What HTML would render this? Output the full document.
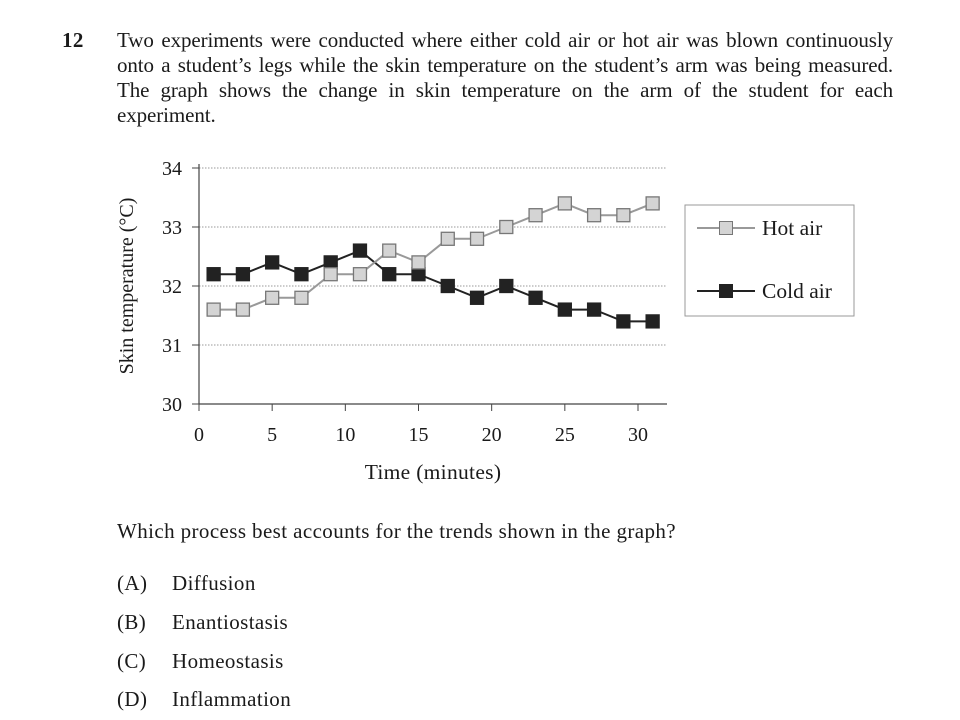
<!DOCTYPE html>
<html><head><meta charset="utf-8"><style>
body{margin:0;width:960px;height:720px;background:#fff;font-family:"Liberation Serif",serif;color:#1a1a1a;overflow:hidden;position:relative}
.t{position:absolute;font-size:21px;letter-spacing:0.4px;white-space:nowrap}
.ln{position:absolute;left:117px;width:776px;font-size:21px;letter-spacing:-0.1px;text-align:justify;text-align-last:justify;white-space:nowrap}
</style></head><body>
<div class="t" style="left:62px;top:28px;font-weight:bold">12</div>
<div>
<div class="ln" style="top:28px">Two experiments were conducted where either cold air or hot air was blown continuously</div>
<div class="ln" style="top:53px">onto a student’s legs while the skin temperature on the student’s arm was being measured.</div>
<div class="ln" style="top:78px">The graph shows the change in skin temperature on the arm of the student for each</div>
<div class="ln" style="top:103px;text-align-last:left">experiment.</div>
</div>
<svg id="chart" width="960" height="720" style="position:absolute;left:0;top:0" font-family="Liberation Serif, serif"></svg>
<div class="t" style="left:117px;top:519px">Which process best accounts for the trends shown in the graph?</div>
<div class="t" style="left:117px;top:571px">(A)<span style="position:absolute;left:55px">Diffusion</span></div>
<div class="t" style="left:117px;top:610px">(B)<span style="position:absolute;left:55px">Enantiostasis</span></div>
<div class="t" style="left:117px;top:649px">(C)<span style="position:absolute;left:55px">Homeostasis</span></div>
<div class="t" style="left:117px;top:687px">(D)<span style="position:absolute;left:55px">Inflammation</span></div>
<script>
const times=[1,3,5,7,9,11,13,15,17,19,21,23,25,27,29,31];
const hotAir=[31.6,31.6,31.8,31.8,32.2,32.2,32.6,32.4,32.8,32.8,33.0,33.2,33.4,33.2,33.2,33.4];
const coldAir=[32.2,32.2,32.4,32.2,32.4,32.6,32.2,32.2,32.0,31.8,32.0,31.8,31.6,31.6,31.4,31.4];
const xTicks=[0,5,10,15,20,25,30];
const yTicks=[30,31,32,33,34];
const svg=document.getElementById('chart');
const NS='http://www.w3.org/2000/svg';
const X=v=>199+v*(638-199)/30;
const Y=v=>404-(v-30)*(404-168)/4;
function mk(t,a,p){const e=document.createElementNS(NS,t);for(const k in a)e.setAttribute(k,a[k]);(p||svg).appendChild(e);return e;}
yTicks.forEach(v=>{
  if(v>30){const g=mk('line',{x1:199,x2:667,y1:Y(v),y2:Y(v),stroke:'#999','stroke-dasharray':'1.5,1.5','stroke-width':1});
  
  }
  const tk=mk('line',{x1:192,x2:199,y1:Y(v),y2:Y(v),stroke:'#444'});
  
  
  const l=mk('text',{x:182,y:Y(v)+7,'text-anchor':'end','font-size':20,fill:'#1a1a1a'});l.textContent=v;
  
  
});
xTicks.forEach(v=>{
  const tk=mk('line',{x1:X(v),x2:X(v),y1:404,y2:411,stroke:'#444'});
  
  
  const l=mk('text',{x:X(v),y:441,'text-anchor':'middle','font-size':20,fill:'#1a1a1a'});l.textContent=v;
  
  
});
const ya=mk('line',{x1:199,x2:199,y1:164,y2:404,stroke:'#444','stroke-width':1.2});


const xa=mk('line',{x1:199,x2:667,y1:404,y2:404,stroke:'#444','stroke-width':1.2});


const xt=mk('text',{x:433,y:479,'text-anchor':'middle','font-size':21.5,'letter-spacing':0.3,fill:'#1a1a1a'});xt.textContent='Time (minutes)';


const yt=mk('text',{x:0,y:0,'text-anchor':'middle','font-size':20,fill:'#1a1a1a',transform:'translate(133,286) rotate(-90)'});yt.textContent='Skin temperature (°C)';


function series(vals,stroke,fill,edge,name){
  const pts=vals.map((v,i)=>X(times[i])+','+Y(v)).join(' ');
  const pl=mk('polyline',{points:pts,fill:'none',stroke:stroke,'stroke-width':2});
  
  
  vals.forEach((v,i)=>{
    const r=mk('rect',{x:X(times[i])-6.5,y:Y(v)-6.5,width:13,height:13,fill:fill,stroke:edge,'stroke-width':1.3});
    
    
  });
}
series(coldAir,'#222','#222','#222','cold-air');
series(hotAir,'#999','#d4d4d4','#777','hot-air');
const lg=mk('rect',{x:685,y:205,width:169,height:111,fill:'#fff',stroke:'#999'});


const l1=mk('line',{x1:697,x2:755,y1:228,y2:228,stroke:'#999','stroke-width':2});


const m1=mk('rect',{x:719.5,y:221.5,width:13,height:13,fill:'#d4d4d4',stroke:'#777'});


const t1=mk('text',{x:762,y:235,'font-size':21.5,fill:'#1a1a1a'});t1.textContent='Hot air';


const l2=mk('line',{x1:697,x2:755,y1:291,y2:291,stroke:'#222','stroke-width':2});


const m2=mk('rect',{x:719.5,y:284.5,width:13,height:13,fill:'#222',stroke:'#222'});


const t2=mk('text',{x:762,y:298,'font-size':21.5,fill:'#1a1a1a'});t2.textContent='Cold air';


</script>
</body></html>
